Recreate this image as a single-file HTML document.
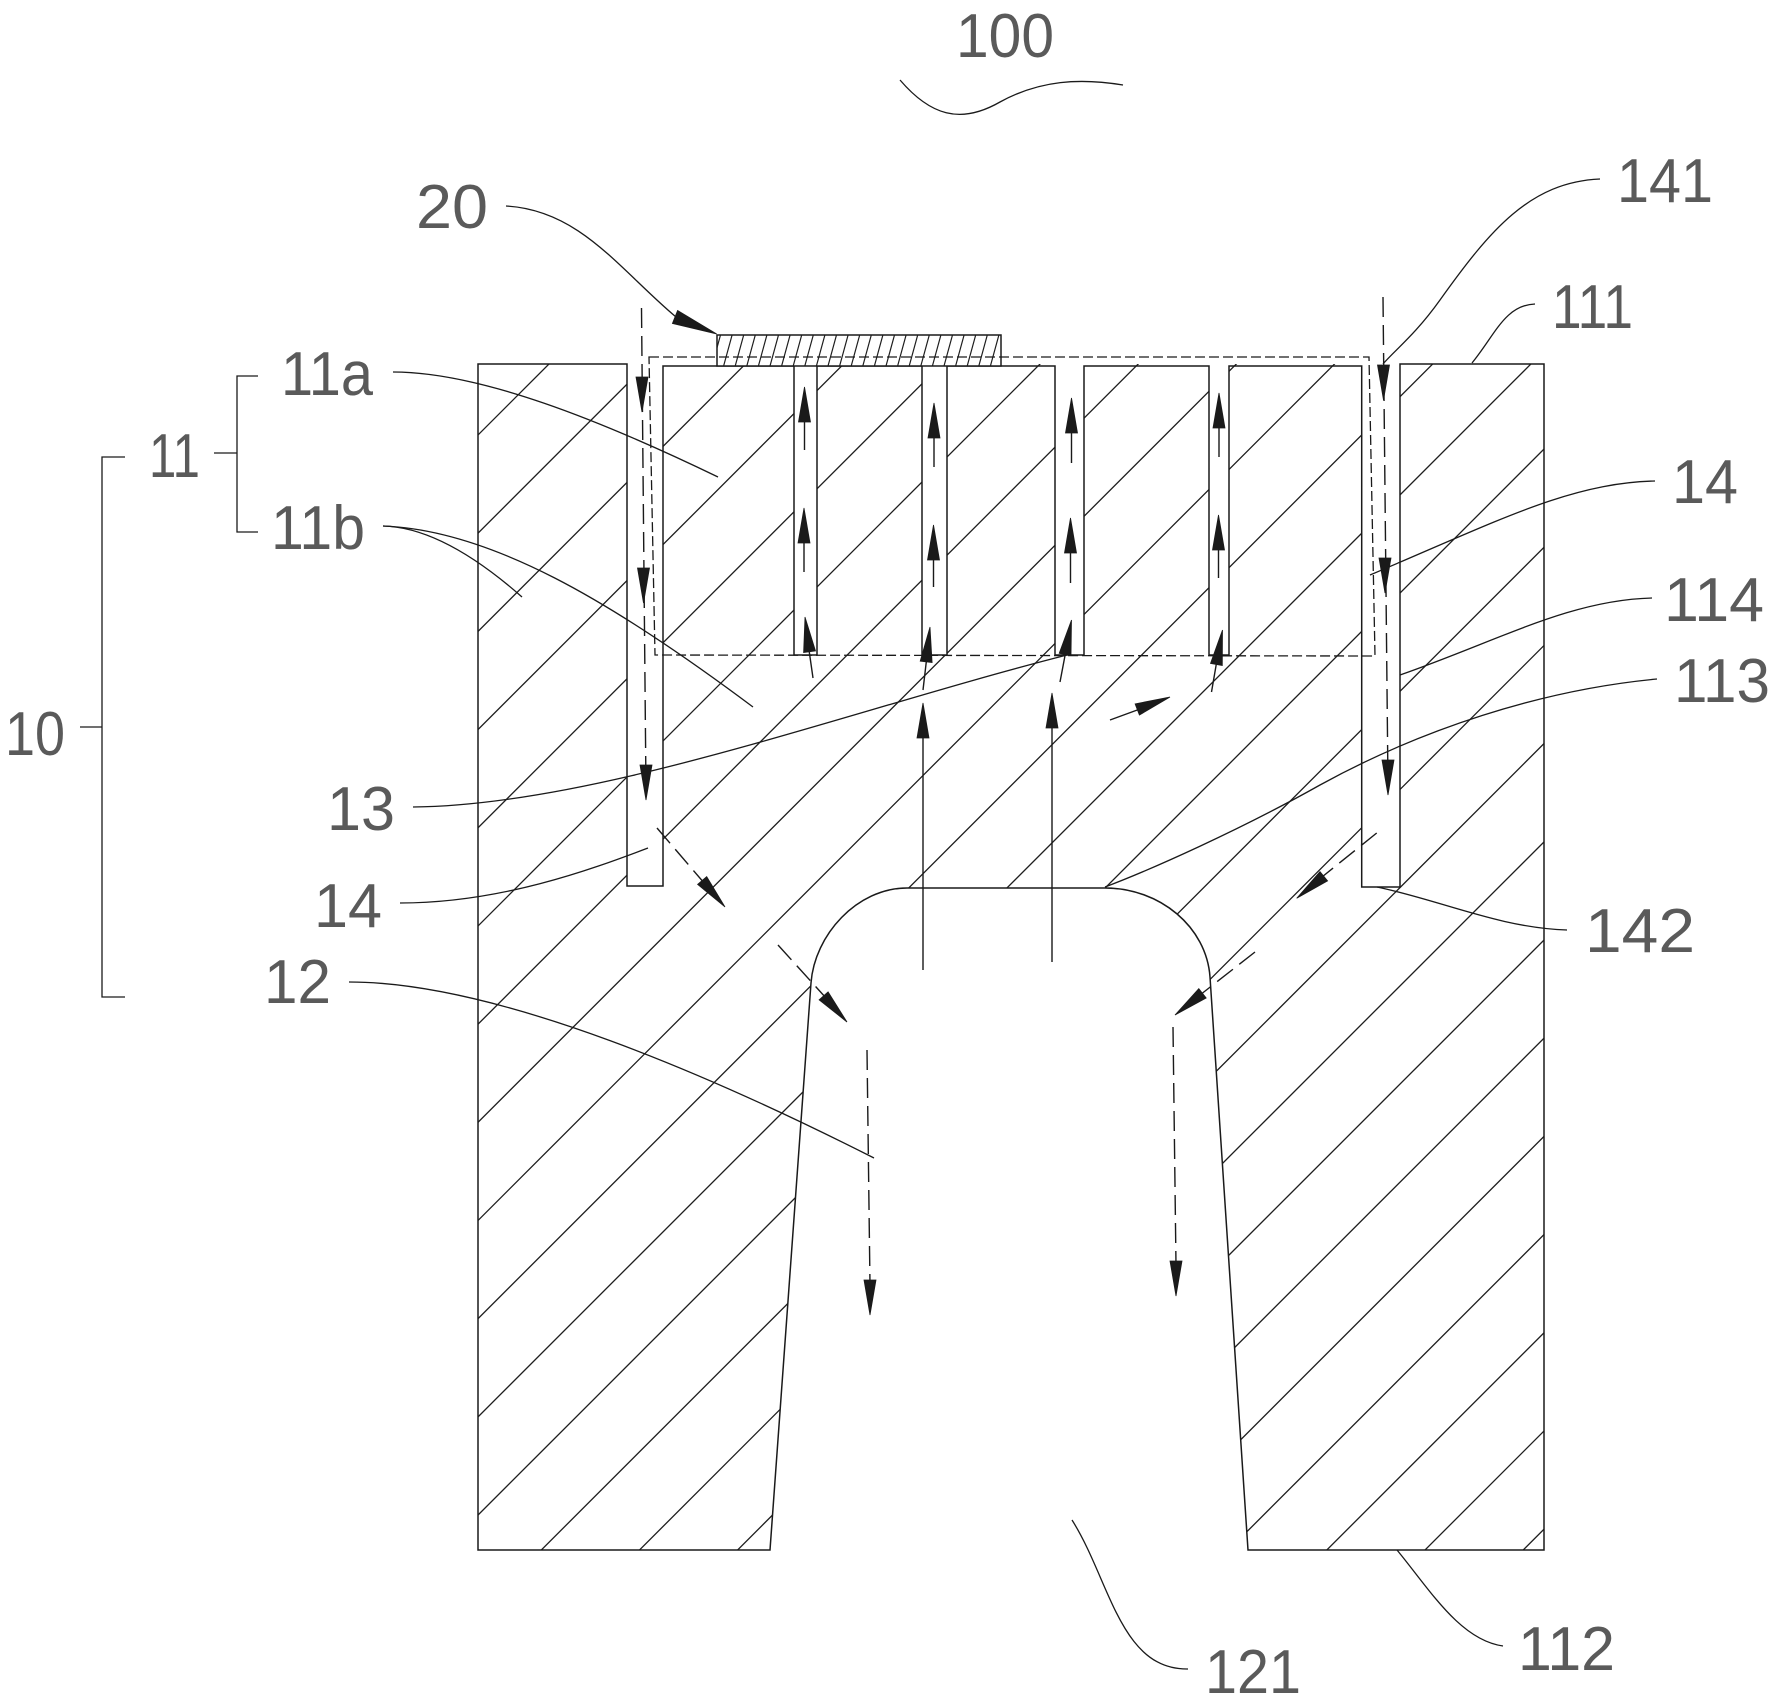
<!DOCTYPE html>
<html>
<head>
<meta charset="utf-8">
<style>
  html, body { margin: 0; padding: 0; background: #ffffff; }
  svg { display: block; }
  text { font-family: "Liberation Sans", "DejaVu Sans", sans-serif; font-size: 62px; fill: #5a5a5a; }
</style>
</head>
<body>
<svg width="1778" height="1704" viewBox="0 0 1778 1704" xmlns="http://www.w3.org/2000/svg">
  <defs>
    <clipPath id="bodyClip">
      <path clip-rule="evenodd" d="M478 364 H1544 V1550 H1248 L1210 977 C1206.5 927 1160 888 1105 888 H907 C857 888 814.5 935 811 983 L770 1550 H478 Z
        M627 364 H663 V886 H627 Z
        M1361.7 364 H1400 V887 H1361.7 Z
        M794 364 H817 V655 H794 Z
        M922 364 H947 V655 H922 Z
        M1055 364 H1084 V655 H1055 Z
        M1209 364 H1229 V655 H1209 Z"/>
    </clipPath>
    <clipPath id="chipClip">
      <rect x="717" y="335" width="284" height="31"/>
    </clipPath>
  </defs>

  <!-- Body hatch -->
  <g clip-path="url(#bodyClip)" stroke="#1e1e1e" stroke-width="1.3" fill="none">
    <path d="M-787 1700 L913 0 M-688.8 1700 L1011.2 0 M-590.6 1700 L1109.4 0 M-492.4 1700 L1207.6 0
      M-394.2 1700 L1305.8 0 M-296 1700 L1404 0 M-197.8 1700 L1502.2 0 M-99.7 1700 L1600.3 0
      M-1.5 1700 L1698.5 0 M96.7 1700 L1796.7 0 M194.9 1700 L1894.9 0 M293.1 1700 L1993.1 0
      M391.3 1700 L2091.3 0 M489.5 1700 L2189.5 0 M587.6 1700 L2287.6 0 M685.9 1700 L2385.9 0
      M784.1 1700 L2484.1 0 M882.2 1700 L2582.2 0 M980.4 1700 L2680.4 0 M1078.6 1700 L2778.6 0
      M1176.8 1700 L2876.8 0 M1275 1700 L2975 0 M1373.2 1700 L3073.2 0"/>
  </g>

  <!-- Body outline -->
  <path fill="none" stroke="#1a1a1a" stroke-width="1.5" stroke-linejoin="miter"
    d="M478 1550 V364 H627 V886 H663 V366 H794 V655 H817 V366 H922 V655 H947 V366 H1055 V655 H1084 V366 H1209 V655 H1229 V366 H1361.7 V887 H1400 V364 H1544 V1550 H1248 L1210 977 C1206.5 927 1160 888 1105 888 H907 C857 888 814.5 935 811 983 L770 1550 Z"/>

  <!-- Chip 20 -->
  <rect x="717" y="335" width="284" height="31" fill="#fff" stroke="#1a1a1a" stroke-width="1.5"/>
  <g clip-path="url(#chipClip)" stroke="#1e1e1e" stroke-width="1.2">
    <path d="M712 366 L720.5 335 M723.6 366 L732.1 335 M735.2 366 L743.7 335 M746.8 366 L755.3 335 M758.4 366 L766.9 335
      M770 366 L778.5 335 M781.6 366 L790.1 335 M793.2 366 L801.7 335 M804.8 366 L813.3 335 M816.4 366 L824.9 335
      M828 366 L836.5 335 M839.6 366 L848.1 335 M851.2 366 L859.7 335 M862.8 366 L871.3 335 M874.4 366 L882.9 335
      M886 366 L894.5 335 M897.6 366 L906.1 335 M909.2 366 L917.7 335 M920.8 366 L929.3 335 M932.4 366 L940.9 335
      M944 366 L952.5 335 M955.6 366 L964.1 335 M967.2 366 L975.7 335 M978.8 366 L987.3 335 M990.4 366 L998.9 335
      M1002 366 L1010.5 335"/>
  </g>

  <!-- Dashed region box -->
  <path fill="none" stroke="#1a1a1a" stroke-width="1.3" stroke-dasharray="10 4"
    d="M649 357 L1369 357 L1375 656 L655 655 Z"/>

  <!-- Dashed flow lines -->
  <g fill="none" stroke="#1a1a1a" stroke-width="1.4" stroke-dasharray="20 8">
    <path d="M641.5 308 L646 790"/>
    <path d="M1383 297 L1388 785"/>
    <path d="M657 828 L705 884"/>
    <path d="M778 945 L826 998"/>
    <path d="M867 1050 L870 1285"/>
    <path d="M1376.7 833 L1322 877"/>
    <path d="M1255 952 L1200 995"/>
    <path d="M1173 1027 L1176 1265"/>
  </g>

  <!-- Solid arrow stems -->
  <g fill="none" stroke="#1a1a1a" stroke-width="1.4">
    <path d="M804.5 415 V450 M804 536 V572 M813 678 L809 650"/>
    <path d="M934 431 V467 M933.5 553 V587 M923 690 L926.5 660"/>
    <path d="M1071.5 426 V463 M1070.5 546 V583 M1060 682 L1065.5 653"/>
    <path d="M1219 421 V457 M1218.5 543 V578 M1211.5 692 L1216.5 663"/>
    <path d="M923 970 V735 M1052 962 V725"/>
    <path d="M1110 720 L1140 709"/>
  </g>

  <!-- Arrowheads -->
  <g fill="#1a1a1a" stroke="#1a1a1a" stroke-width="0.8" stroke-linejoin="miter">
    <polygon points="804.5,387 798.5,422 810.5,422"/>
    <polygon points="804,508 798,543 810,543"/>
    <polygon points="805,617 815.5,650.9 803.6,652.5"/>
    <polygon points="934,403 928,438 940,438"/>
    <polygon points="933.5,525 927.5,560 939.5,560"/>
    <polygon points="930,627 932.1,662.5 920.2,661.1"/>
    <polygon points="1071.5,398 1065.5,433 1077.5,433"/>
    <polygon points="1070.5,518 1064.5,553 1076.5,553"/>
    <polygon points="1071.5,620 1071,655.5 1059.2,653.3"/>
    <polygon points="1219,393 1213,428 1225,428"/>
    <polygon points="1218.5,515 1212.5,550 1224.5,550"/>
    <polygon points="1222.5,630 1222.3,665.5 1210.5,663.4"/>
    <polygon points="923,703 917,738 929,738"/>
    <polygon points="1052,693 1046,728 1058,728"/>
    <polygon points="1170,697 1139.4,715.1 1135.1,703.9"/>
    <polygon points="642,412 636,377 648,377"/>
    <polygon points="643.5,603 637.5,568 649.5,568"/>
    <polygon points="646,800 640,765 652,765"/>
    <polygon points="1383.5,400 1377.5,365 1389.5,365"/>
    <polygon points="1385,593 1379,558 1391,558"/>
    <polygon points="1388,795 1382,760 1394,760"/>
    <polygon points="725,907 706.7,876.6 697.6,884.4"/>
    <polygon points="847,1022 828.1,991.9 819.1,999.9"/>
    <polygon points="1296.7,898.3 1327.6,880.9 1320,871.6"/>
    <polygon points="1175,1015 1206.2,998 1198.8,988.6"/>
    <polygon points="870,1315 864,1280 876,1280"/>
    <polygon points="1176,1296 1170,1261 1182,1261"/>
    <polygon points="716.7,334 677.6,310.5 672.4,323.5"/>
  </g>

  <!-- Leader lines -->
  <g fill="none" stroke="#1a1a1a" stroke-width="1.3">
    <path d="M900 80 C930 115 960 125 1000 102 C1040 80 1080 78 1123 85"/>
    <path d="M506 206 C580 210 620 270 676 317"/>
    <path d="M1600 179 C1530 182 1490 230 1440 300 C1415 335 1395 350 1383 364"/>
    <path d="M1535 304 C1505 305 1495 335 1472 363"/>
    <path d="M1655 481 C1570 483 1500 520 1370 575"/>
    <path d="M1652 598 C1570 600 1500 640 1400 675"/>
    <path d="M1657 679 C1540 690 1420 730 1320 785 C1240 830 1150 870 1105 887"/>
    <path d="M1567 930 C1500 928 1440 900 1377 887"/>
    <path d="M1188 1669 C1120 1670 1110 1580 1072 1520"/>
    <path d="M1503 1646 C1460 1640 1430 1590 1397 1550"/>
    <path d="M393 372 C480 372 600 420 718 477"/>
    <path d="M383 526 C430 527 480 560 522 597"/>
    <path d="M383 526 C490 530 610 600 753 707"/>
    <path d="M413 807 C600 805 850 710 1067 655"/>
    <path d="M400 903 C500 903 590 870 648 848"/>
    <path d="M349 982 C500 982 720 1080 874 1158"/>
    <path d="M258 376 H237 V532 H258 M214 453 H237"/>
    <path d="M125 457 H102 V997 H125 M80 727 H102"/>
  </g>

  <!-- Labels -->
  <text x="956" y="57" textLength="98" lengthAdjust="spacingAndGlyphs">100</text>
  <text x="416" y="228" textLength="72" lengthAdjust="spacingAndGlyphs">20</text>
  <text x="281" y="395" textLength="92" lengthAdjust="spacingAndGlyphs">11a</text>
  <text x="149" y="477" textLength="51" lengthAdjust="spacingAndGlyphs">11</text>
  <text x="271" y="549" textLength="94" lengthAdjust="spacingAndGlyphs">11b</text>
  <text x="5" y="755" textLength="60" lengthAdjust="spacingAndGlyphs">10</text>
  <text x="327" y="830" textLength="68" lengthAdjust="spacingAndGlyphs">13</text>
  <text x="314" y="927" textLength="68" lengthAdjust="spacingAndGlyphs">14</text>
  <text x="264" y="1003" textLength="67" lengthAdjust="spacingAndGlyphs">12</text>
  <text x="1617" y="202" textLength="96" lengthAdjust="spacingAndGlyphs">141</text>
  <text x="1552" y="328" textLength="81" lengthAdjust="spacingAndGlyphs">111</text>
  <text x="1672" y="503" textLength="66" lengthAdjust="spacingAndGlyphs">14</text>
  <text x="1664" y="621" textLength="100" lengthAdjust="spacingAndGlyphs">114</text>
  <text x="1674" y="702" textLength="96" lengthAdjust="spacingAndGlyphs">113</text>
  <text x="1585" y="952" textLength="110" lengthAdjust="spacingAndGlyphs">142</text>
  <text x="1205" y="1693" textLength="96" lengthAdjust="spacingAndGlyphs">121</text>
  <text x="1518" y="1670" textLength="97" lengthAdjust="spacingAndGlyphs">112</text>
</svg>
</body>
</html>
